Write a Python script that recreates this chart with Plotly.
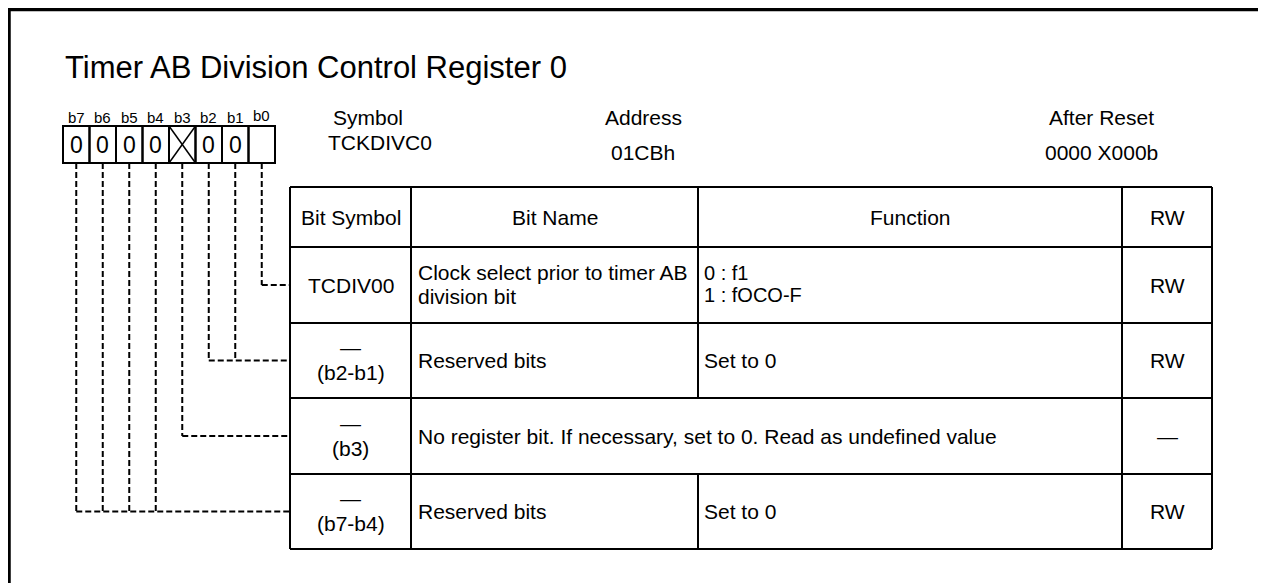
import plotly.graph_objects as go

# ---- data ----
title = "Timer AB Division Control Register 0"
bit_labels = ["b7", "b6", "b5", "b4", "b3", "b2", "b1", "b0"]
bit_values = ["0", "0", "0", "0", "X", "0", "0", ""]
bit_row = [3, 3, 3, 3, 2, 1, 1, 0]          # table row each bit connects to
info_labels = ["Symbol", "Address", "After Reset"]
info_values = ["TCKDIVC0", "01CBh", "0000 X000b"]
headers = ["Bit Symbol", "Bit Name", "Function", "RW"]
row_symbol = [["TCDIV00"], ["\u2014", "(b2-b1)"], ["\u2014", "(b3)"], ["\u2014", "(b7-b4)"]]
row_name = [["Clock select prior to timer AB", "division bit"], ["Reserved bits"],
            ["No register bit. If necessary, set to 0. Read as undefined value"], ["Reserved bits"]]
row_func = [["0 : f1", "1 : fOCO-F"], ["Set to 0"], [], ["Set to 0"]]
row_rw = ["RW", "RW", "\u2014", "RW"]
row_span = [False, False, True, False]   # name spans into function column

# ---- layout geometry (pixels, page coordinates) ----
W, H = 1266, 583
OFF = 8   # page body margin
FONT = "Arial, Liberation Sans, Helvetica, sans-serif"
box_x0, box_w, box_y0, box_y1 = 63, 26.5, 126, 163
col_x = [290, 411, 698, 1122, 1212]
row_y = [187, 247, 323, 398, 474, 549]

shapes, ann = [], []

def line(x0, y0, x1, y1, w=2, dash=None, color="black"):
    d = dict(type="line", xref="x", yref="y", x0=x0, y0=y0, x1=x1, y1=y1,
             line=dict(color=color, width=w))
    if dash:
        d["line"]["dash"] = dash
    shapes.append(d)

def text(x, y, s, size=21, anchor="center"):
    ann.append(dict(x=x, y=y, xref="x", yref="y", text=s, showarrow=False,
                    xanchor=anchor, yanchor="middle",
                    font=dict(family=FONT, size=size, color="black")))

# outer frame
line(8, 9.5, W, 9.5, w=3.5)
line(9, 8, 9, H, w=3.5)

# title
text(63, 67, title, size=31, anchor="left")

# register boxes
for i, (lab, val) in enumerate(zip(bit_labels, bit_values)):
    x0 = box_x0 + i * box_w
    x1 = x0 + box_w
    cx = (x0 + x1) / 2
    shapes.append(dict(type="rect", xref="x", yref="y", x0=x0, x1=x1, y0=box_y0, y1=box_y1,
                       line=dict(color="black", width=2)))
    text(cx, 117 if lab != "b0" else 115.5, lab, size=15)
    if val == "X":
        line(x0, box_y0, x1, box_y1, w=1.5)
        line(x0, box_y1, x1, box_y0, w=1.5)
    elif val:
        text(cx, 145, val, size=23)

# info labels
info_cx = [[368, 380], [643, 643], [1101, 1101]]
info_y = [[117, 142], [117, 152], [117, 152]]
for lab, val, cx, cy in zip(info_labels, info_values, info_cx, info_y):
    text(cx[0], cy[0], lab)
    text(cx[1], cy[1], val)

# table
line(col_x[0], row_y[0], col_x[-1], row_y[0])
for y in row_y[1:]:
    line(col_x[0], y, col_x[-1], y)
line(col_x[0], row_y[0], col_x[0], row_y[-1])
line(col_x[-1], row_y[0], col_x[-1], row_y[-1])
line(col_x[1], row_y[0], col_x[1], row_y[-1])
line(col_x[3], row_y[0], col_x[3], row_y[-1])
for r in range(len(row_y) - 1):
    if r == 0 or not row_span[r - 1]:
        line(col_x[2], row_y[r], col_x[2], row_y[r + 1])

# header texts
hy = (row_y[0] + row_y[1]) / 2
for j, h in enumerate(headers):
    text((col_x[j] + col_x[j + 1]) / 2, hy, h)

# body rows
for r in range(4):
    y0, y1 = row_y[r + 1], row_y[r + 2]
    cy = (y0 + y1) / 2
    c1 = (col_x[0] + col_x[1]) / 2
    if len(row_symbol[r]) == 1:
        text(c1, cy, row_symbol[r][0])
    else:
        text(c1, cy - 13, row_symbol[r][0])
        text(c1, cy + 12, row_symbol[r][1])
    names = row_name[r]
    if len(names) == 1:
        text(col_x[1] + 5, cy, names[0], anchor="left")
    else:
        text(col_x[1] + 5, cy - 13, names[0], anchor="left")
        text(col_x[1] + 5, cy + 11, names[1], anchor="left")
    funcs = row_func[r]
    if len(funcs) == 1:
        text(col_x[2] + 4, cy, funcs[0], anchor="left")
    elif len(funcs) == 2:
        text(col_x[2] + 4, cy - 12, funcs[0], anchor="left", size=20)
        text(col_x[2] + 4, cy + 10, funcs[1], anchor="left", size=20)
    text((col_x[3] + col_x[4]) / 2, cy, row_rw[r])

# dashed connectors
for i, r in enumerate(bit_row):
    cx = box_x0 + i * box_w + box_w / 2
    ty = (row_y[r + 1] + row_y[r + 2]) / 2
    line(cx, box_y1, cx, ty, w=2, dash="6px,3px")
for r in sorted(set(bit_row)):
    xs = [box_x0 + i * box_w + box_w / 2 for i, rr in enumerate(bit_row) if rr == r]
    ty = (row_y[r + 1] + row_y[r + 2]) / 2
    line(min(xs), ty, col_x[0], ty, w=2, dash="6px,3px")

fig = go.Figure()
fig.update_layout(
    width=W - OFF, height=H - OFF, margin=dict(l=0, r=0, t=0, b=0),
    paper_bgcolor="white", plot_bgcolor="white",
    xaxis=dict(range=[OFF, W], visible=False, fixedrange=True),
    yaxis=dict(range=[H, OFF], visible=False, fixedrange=True),
    shapes=shapes, annotations=ann, showlegend=False,
)
fig.write_html("out.html")
